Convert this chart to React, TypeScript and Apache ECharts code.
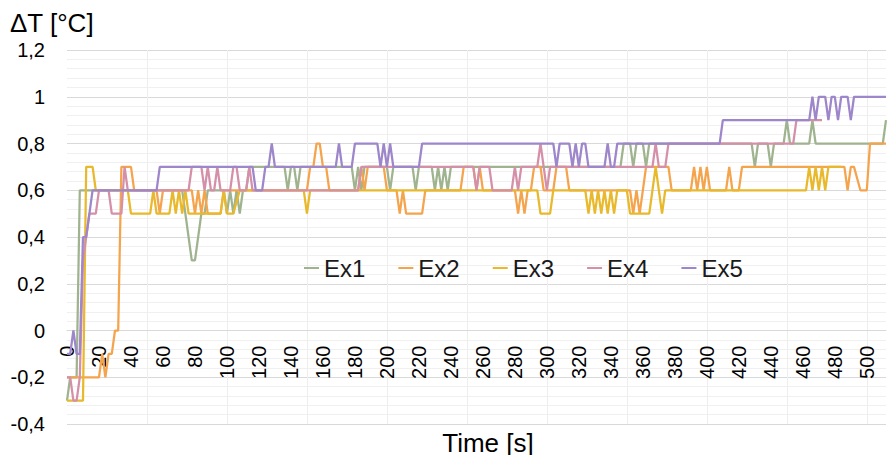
import React, { useEffect, useRef } from "react";
import * as echarts from "echarts";

// Time [s] / ΔT [°C] vertices of each measured curve (2 s sampling)
const ex1: [number, number][] = [
  [0, -0.3], [2, -0.2], [6, -0.2], [8, 0.6], [72, 0.6], [74, 0.5], [76, 0.4], [78, 0.3], [80, 0.3], [82, 0.4],
  [84, 0.5], [86, 0.5], [88, 0.6], [98, 0.6], [100, 0.5], [102, 0.6], [104, 0.5], [106, 0.6], [108, 0.5], [110, 0.6],
  [112, 0.6], [114, 0.7], [136, 0.7], [138, 0.6], [140, 0.7], [142, 0.7], [144, 0.6], [146, 0.7], [178, 0.7], [180, 0.6],
  [182, 0.7], [184, 0.6], [186, 0.7], [200, 0.7], [202, 0.6], [204, 0.7], [216, 0.7], [218, 0.6], [220, 0.7], [228, 0.7],
  [230, 0.6], [232, 0.7], [234, 0.6], [236, 0.7], [238, 0.6], [240, 0.7], [346, 0.7], [348, 0.8], [352, 0.8], [354, 0.7],
  [356, 0.8], [360, 0.8], [362, 0.7], [364, 0.8], [428, 0.8], [430, 0.7], [432, 0.8], [438, 0.8], [440, 0.7], [442, 0.8],
  [448, 0.8], [450, 0.9], [452, 0.8], [464, 0.8], [466, 0.9], [468, 0.8], [510, 0.8], [512, 0.9],
];
const ex2: [number, number][] = [
  [0, -0.2], [20, -0.2], [22, -0.1], [24, -0.2], [26, -0.1], [28, -0.1], [30, 0], [32, 0], [34, 0.7], [40, 0.7],
  [42, 0.6], [56, 0.6], [58, 0.5], [60, 0.6], [78, 0.6], [80, 0.5], [82, 0.6], [84, 0.5], [86, 0.6], [88, 0.5],
  [96, 0.5], [98, 0.6], [150, 0.6], [152, 0.7], [154, 0.7], [156, 0.8], [158, 0.8], [160, 0.7], [162, 0.7], [164, 0.6],
  [182, 0.6], [184, 0.7], [186, 0.6], [188, 0.7], [198, 0.7], [200, 0.6], [206, 0.6], [208, 0.5], [210, 0.6], [212, 0.5],
  [222, 0.5], [224, 0.6], [246, 0.6], [248, 0.7], [254, 0.7], [256, 0.6], [258, 0.7], [260, 0.6], [280, 0.6], [282, 0.5],
  [284, 0.6], [286, 0.5], [288, 0.6], [290, 0.6], [292, 0.7], [296, 0.7], [298, 0.6], [304, 0.6], [306, 0.7], [312, 0.7],
  [314, 0.6], [352, 0.6], [354, 0.5], [356, 0.6], [358, 0.5], [360, 0.6], [362, 0.7], [376, 0.7], [378, 0.6], [390, 0.6],
  [392, 0.7], [394, 0.6], [396, 0.7], [398, 0.6], [400, 0.7], [402, 0.6], [412, 0.6], [414, 0.7], [416, 0.6], [420, 0.6],
  [422, 0.7], [486, 0.7], [488, 0.6], [490, 0.7], [492, 0.7], [496, 0.6], [500, 0.6], [502, 0.8], [512, 0.8],
];
const ex3: [number, number][] = [
  [0, -0.3], [10, -0.3], [12, 0.7], [16, 0.7], [18, 0.6], [38, 0.6], [40, 0.5], [52, 0.5], [54, 0.6], [56, 0.5],
  [64, 0.5], [66, 0.6], [68, 0.5], [70, 0.6], [72, 0.5], [74, 0.6], [76, 0.5], [96, 0.5], [98, 0.6], [100, 0.5],
  [104, 0.5], [108, 0.6], [148, 0.6], [150, 0.5], [152, 0.6], [294, 0.6], [296, 0.5], [302, 0.5], [304, 0.6], [324, 0.6],
  [326, 0.5], [328, 0.6], [330, 0.5], [332, 0.6], [334, 0.5], [336, 0.6], [338, 0.5], [340, 0.6], [342, 0.5], [344, 0.6],
  [350, 0.6], [352, 0.5], [364, 0.5], [366, 0.6], [368, 0.7], [370, 0.6], [372, 0.5], [374, 0.6], [462, 0.6], [464, 0.7],
  [466, 0.6], [468, 0.7], [470, 0.6], [472, 0.7], [474, 0.6], [476, 0.7], [484, 0.7],
];
const ex4: [number, number][] = [
  [0, -0.2], [2, -0.2], [4, -0.3], [6, -0.3], [8, -0.2], [10, 0.3], [12, 0.4], [14, 0.5], [18, 0.5], [20, 0.6],
  [26, 0.6], [28, 0.5], [34, 0.5], [36, 0.7], [38, 0.6], [76, 0.6], [78, 0.7], [84, 0.7], [86, 0.6], [88, 0.7],
  [90, 0.6], [92, 0.6], [94, 0.7], [96, 0.6], [102, 0.6], [104, 0.7], [106, 0.7], [108, 0.6], [112, 0.6], [114, 0.7],
  [116, 0.6], [182, 0.6], [184, 0.7], [254, 0.7], [256, 0.6], [258, 0.7], [264, 0.7], [266, 0.6], [278, 0.6], [280, 0.7],
  [282, 0.6], [284, 0.7], [294, 0.7], [296, 0.8], [298, 0.7], [300, 0.6], [302, 0.7], [366, 0.7], [368, 0.8], [370, 0.7],
  [374, 0.7], [376, 0.8], [454, 0.8], [456, 0.9], [472, 0.9],
];
const ex5: [number, number][] = [
  [0, -0.1], [2, -0.1], [4, 0], [6, -0.1], [8, -0.1], [10, 0.4], [12, 0.4], [14, 0.5], [16, 0.6], [56, 0.6],
  [58, 0.7], [116, 0.7], [118, 0.6], [122, 0.6], [124, 0.7], [126, 0.7], [128, 0.8], [130, 0.7], [168, 0.7], [170, 0.8],
  [172, 0.7], [178, 0.7], [180, 0.8], [194, 0.8], [196, 0.7], [198, 0.8], [200, 0.7], [202, 0.8], [204, 0.7], [220, 0.7],
  [222, 0.8], [304, 0.8], [306, 0.7], [308, 0.8], [314, 0.8], [316, 0.7], [318, 0.8], [320, 0.7], [322, 0.8], [324, 0.8],
  [326, 0.7], [336, 0.7], [338, 0.8], [340, 0.7], [342, 0.7], [344, 0.8], [408, 0.8], [410, 0.9], [464, 0.9], [466, 1.0],
  [468, 0.9], [470, 1.0], [474, 1.0], [476, 0.9], [478, 1.0], [480, 1.0], [482, 0.9], [484, 1.0], [488, 1.0], [490, 0.9],
  [492, 1.0], [512, 1.0],
];

const seriesNames = ["Ex1", "Ex2", "Ex3", "Ex4", "Ex5"];
const seriesData = [ex1, ex2, ex3, ex4, ex5];
const seriesColors = ["#9fb38f", "#f5a44e", "#e8b92c", "#d590a9", "#9d86c9"];

const yTitle = "ΔT [°C]";
const xTitle = "Time [s]";
const FONT = "'Liberation Sans', Arial, sans-serif";

const GRID_TOP = 50;
const GRID_BOTTOM = 31;
const CHART_H = 455;
const Y_MIN = -0.4;
const Y_MAX = 1.2;
// distance from the plot's bottom edge up to the value 0, so the time axis sits on ΔT = 0
const zeroOffset = ((0 - Y_MIN) / (Y_MAX - Y_MIN)) * (CHART_H - GRID_TOP - GRID_BOTTOM);

function fmtY(v: number): string {
  const r = Math.round(v * 10) / 10;
  return String(r).replace(".", ",");
}

export default function App() {
  const ref = useRef<HTMLDivElement>(null);
  useEffect(() => {
    const chart = echarts.init(ref.current!, null, { renderer: "svg" });
    chart.setOption({
      animation: false,
      backgroundColor: "#ffffff",
      textStyle: { fontFamily: FONT },
      grid: { left: 67, right: 2, top: GRID_TOP, bottom: GRID_BOTTOM, containLabel: false, outerBoundsMode: "none" },
      legend: {
        data: seriesNames,
        left: 304,
        top: 256,
        padding: 0,
        icon: "rect",
        itemWidth: 15,
        itemHeight: 2,
        itemGap: 33,
        textStyle: { fontSize: 24, color: "#1a1a1a", fontFamily: FONT },
      },
      xAxis: [
        {
          type: "value",
          min: 0,
          max: 512,
          interval: 20,
          offset: -zeroOffset,
          axisLine: { show: true, onZero: false, lineStyle: { color: "#d9d9d9", width: 1 } },
          axisTick: { show: false },
          splitLine: { show: false },
          axisLabel: {
            rotate: 90,
            margin: 15,
            fontSize: 20,
            color: "#000",
            fontFamily: FONT,
            showMaxLabel: false,
            formatter: (v: number) => (v % 20 === 0 ? String(v) : ""),
          },
        },
        {
          type: "value",
          min: 0,
          max: 512,
          interval: 50,
          position: "bottom",
          axisLine: { show: false, onZero: false },
          axisTick: { show: false },
          axisLabel: { show: false },
          splitLine: { show: true, showMinLine: false, showMaxLine: false, lineStyle: { color: "#eeeeee", width: 1 } },
        },
      ],
      yAxis: {
        type: "value",
        min: Y_MIN,
        max: Y_MAX,
        interval: 0.2,
        axisLine: { show: false, onZero: false },
        axisTick: { show: false },
        axisLabel: { margin: 22, fontSize: 20, color: "#000", fontFamily: FONT, formatter: fmtY },
        splitLine: { show: true, lineStyle: { color: "#d9d9d9", width: 1 } },
        minorTick: { show: false, splitNumber: 5 },
        minorSplitLine: { show: true, lineStyle: { color: "#f0f0f0", width: 1 } },
      },
      graphic: [
        {
          type: "text",
          left: 10,
          top: 10,
          style: { text: yTitle, fontSize: 26, fill: "#000", fontFamily: FONT },
        },
        {
          type: "text",
          x: 488,
          y: 443,
          style: { text: xTitle, fontSize: 26, fill: "#000", fontFamily: FONT, align: "center", verticalAlign: "middle" },
        },
      ],
      series: seriesNames.map((name, i) => ({
        name,
        type: "line",
        xAxisIndex: 0,
        yAxisIndex: 0,
        data: seriesData[i],
        showSymbol: false,
        symbol: "none",
        color: seriesColors[i],
        itemStyle: { color: seriesColors[i] },
        lineStyle: { color: seriesColors[i], width: 2.25 },
        z: 2 + i,
      })),
    });
    return () => chart.dispose();
  }, []);
  return <div ref={ref} style={{ position: "fixed", left: 0, top: 0, width: 888, height: 455 }} />;
}
